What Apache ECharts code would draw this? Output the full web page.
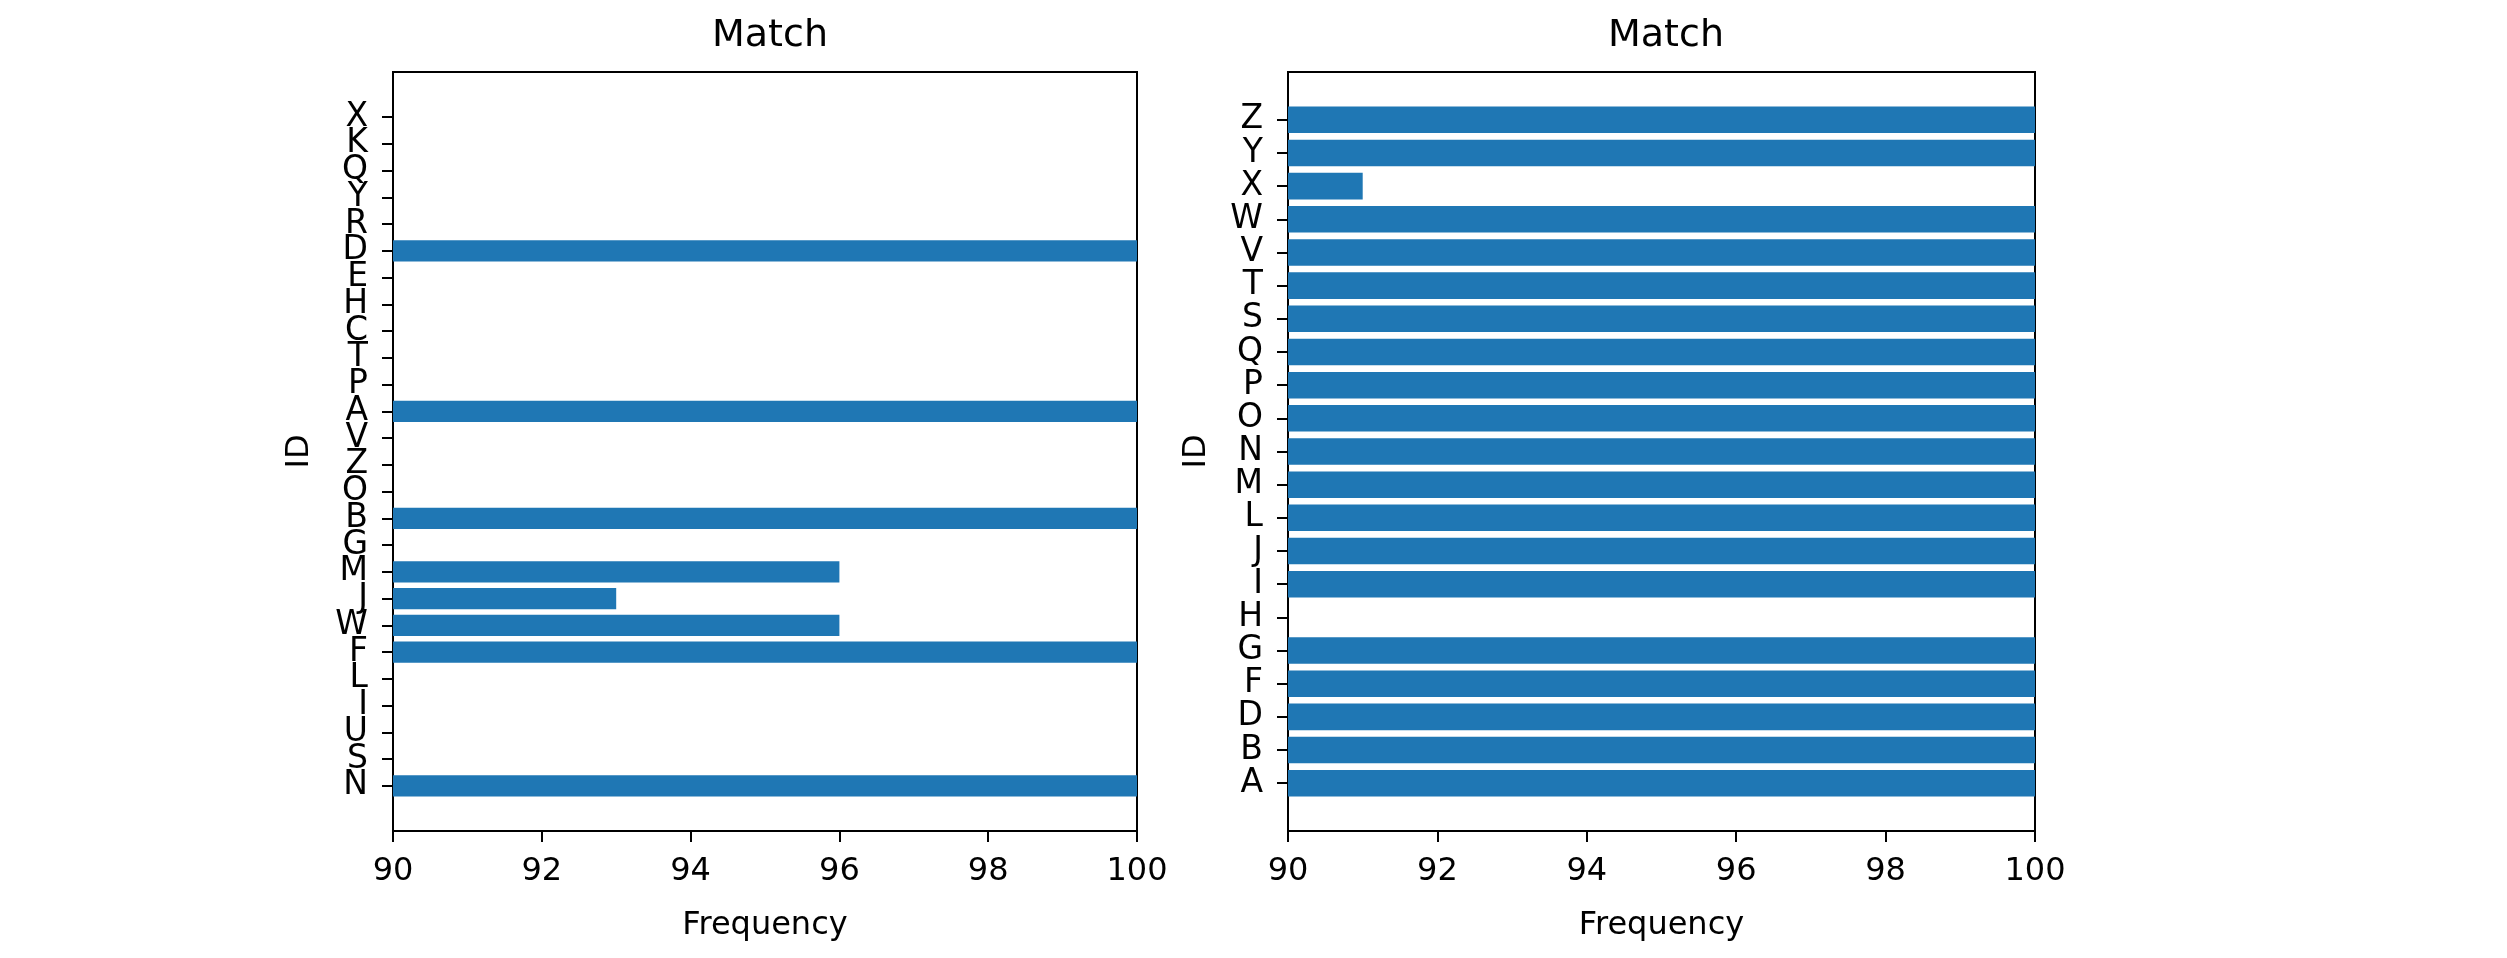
<!DOCTYPE html>
<html>
<head>
<meta charset="utf-8">
<script src="https://cdn.jsdelivr.net/npm/echarts@6/dist/echarts.min.js"></script>
<style>html,body{margin:0;padding:0;background:#fff;}#c{width:2507px;height:958px;}</style>
</head>
<body>
<div id="c"></div>
<script>
// Left panel (bottom to top)
var leftIds = ['N','S','U','I','L','F','W','J','M','G','B','O','Z','V','A','P','T','C','H','E','D','R','Y','Q','K','X'];
var leftValues = [100,0,0,0,0,100,96,93,96,0,100,0,0,0,100,0,0,0,0,0,100,0,0,0,0,0];
// Right panel (bottom to top)
var rightIds = ['A','B','D','F','G','H','I','J','L','M','N','O','P','Q','S','T','V','W','X','Y','Z'];
var rightValues = [100,100,100,100,100,0,100,100,100,100,100,100,100,100,100,100,100,100,91,100,100];
var xTicks = [90,92,94,96,98,100];
var titleText = 'Match';
var xName = 'Frequency';
var yName = 'ID';

var FONT = 'DejaVu Sans';
var BLUE = '#1f77b4';
var chart = echarts.init(document.getElementById('c'));

function frameX(gi, show) {
  return {
    type: 'value', gridIndex: gi, min: xTicks[0], max: xTicks[xTicks.length-1], interval: 2,
    show: show,
    axisLine: {show: true, onZero: false, lineStyle: {color: '#000', width: 2}},
    axisTick: {show: true, length: 11, lineStyle: {color: '#000', width: 2}},
    axisLabel: {show: true, fontFamily: FONT, fontSize: 32, color: '#000', margin: 25},
    splitLine: {show: false},
    name: show ? xName : '', nameLocation: 'middle', nameGap: 79,
    nameTextStyle: {fontFamily: FONT, fontSize: 32, color: '#000'}
  };
}

var option = {
  animation: false,
  backgroundColor: '#fff',
  title: [
    {text: titleText, left: 765, top: 12, textAlign: 'center', textStyle: {fontFamily: FONT, fontSize: 38, fontWeight: 'normal', color: '#000'}},
    {text: titleText, left: 1661, top: 12, textAlign: 'center', textStyle: {fontFamily: FONT, fontSize: 38, fontWeight: 'normal', color: '#000'}}
  ],
  grid: [
    {left: 393, right: 1370, top: 72, bottom: 127, show: true, borderColor: '#000', borderWidth: 2, backgroundColor: 'transparent'},
    {left: 393, right: 1370, top: 103.8, bottom: 158.8},
    {left: 1288, right: 472, top: 72, bottom: 127, show: true, borderColor: '#000', borderWidth: 2, backgroundColor: 'transparent'},
    {left: 1288, right: 472, top: 103.2, bottom: 158.2}
  ],
  xAxis: [frameX(0, true), frameX(1, false), frameX(2, true), frameX(3, false)],
  yAxis: [
    {type: 'value', gridIndex: 0, min: 0, max: 1, show: true, axisLine: {show: true, lineStyle: {color: '#000', width: 2}}, axisTick: {show: false}, axisLabel: {show: false}, splitLine: {show: false}},
    {type: 'category', gridIndex: 1, data: leftIds, boundaryGap: true,
      axisLine: {show: false}, axisTick: {show: true, alignWithLabel: true, length: 11, lineStyle: {color: '#000', width: 2}},
      axisLabel: {fontFamily: FONT, fontSize: 33, color: '#000', margin: 25, interval: 0},
      name: yName, nameLocation: 'middle', nameGap: 77, nameTextStyle: {fontFamily: FONT, fontSize: 32, color: '#000'}},
    {type: 'value', gridIndex: 2, min: 0, max: 1, show: true, axisLine: {show: true, lineStyle: {color: '#000', width: 2}}, axisTick: {show: false}, axisLabel: {show: false}, splitLine: {show: false}},
    {type: 'category', gridIndex: 3, data: rightIds, boundaryGap: true,
      axisLine: {show: false}, axisTick: {show: true, alignWithLabel: true, length: 11, lineStyle: {color: '#000', width: 2}},
      axisLabel: {fontFamily: FONT, fontSize: 33, color: '#000', margin: 25, interval: 0},
      name: yName, nameLocation: 'middle', nameGap: 75, nameTextStyle: {fontFamily: FONT, fontSize: 32, color: '#000'}}
  ],
  series: [
    {type: 'bar', xAxisIndex: 1, yAxisIndex: 1, data: leftValues, barWidth: '80%', clip: true, itemStyle: {color: BLUE}},
    {type: 'bar', xAxisIndex: 3, yAxisIndex: 3, data: rightValues, barWidth: '80%', clip: true, itemStyle: {color: BLUE}}
  ]
};
chart.setOption(option);
</script>
</body>
</html>
